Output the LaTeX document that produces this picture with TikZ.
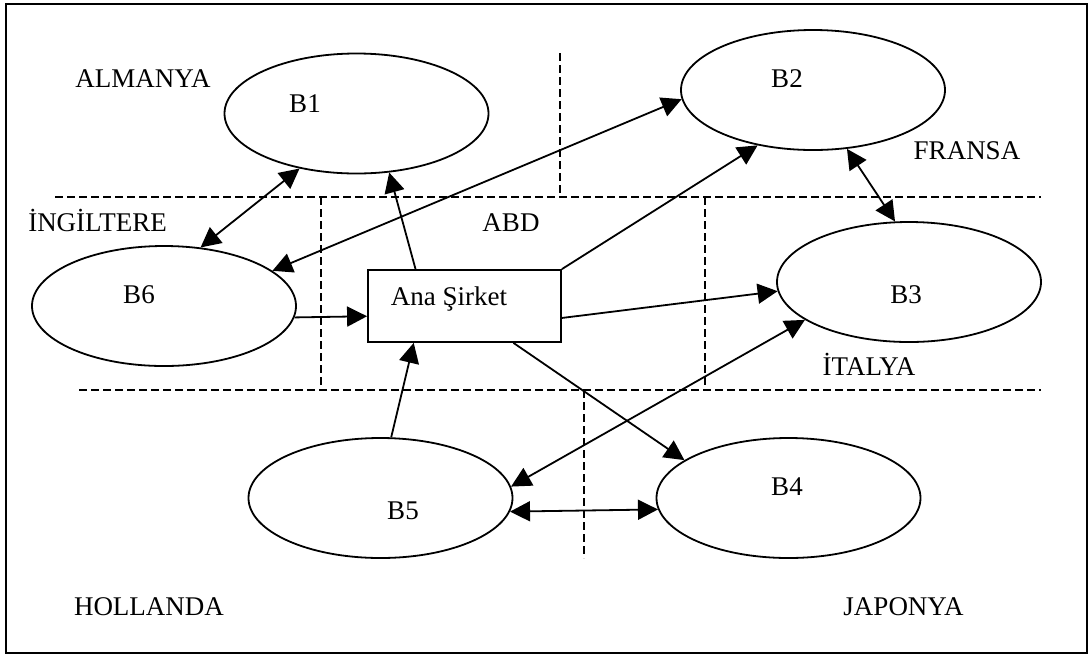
\documentclass[tikz,border=0pt]{standalone}
\usepackage{fontspec}
\setmainfont{Liberation Serif}
\usetikzlibrary{arrows.meta,shapes.geometric}

\begin{document}
\begin{tikzpicture}[
        x=0.5pt, y=-0.5pt,
        line width=0.9pt,
        font=\fontsize{13.5}{16}\selectfont,
        unit/.style={draw, ellipse, inner sep=0pt, minimum width=132pt, minimum height=60pt},
        hq/.style={draw, rectangle, inner sep=0pt, minimum width=96.5pt, minimum height=36pt},
        txt/.style={anchor=base, inner sep=0pt},
        zone/.style={dash pattern=on 4pt off 2pt},
        arr/.style={-{Triangle[length=10pt, width=10pt]}},
        darr/.style={{Triangle[length=10pt, width=10pt]}-{Triangle[length=10pt, width=10pt]}}
    ]
        \useasboundingbox (0,0) rectangle (1089,655);
        \draw[line width=1.2pt] (6,4) rectangle (1087,653);

        % country borders
        \draw[zone] (55,197)  -- (1041,197);
        \draw[zone] (560,53)  -- (560,197);
        \draw[zone] (321,197) -- (321,390);
        \draw[zone] (705,197) -- (705,390);
        \draw[zone] (79,390)  -- (1041,390);
        \draw[zone] (584,390) -- (584,558);

        \node[unit] (b1) at (356.5,113.5) {};
        \node[unit] (b2) at (813,90)      {};
        \node[unit] (b3) at (909,282)     {};
        \node[unit] (b4) at (788.5,498)   {};
        \node[unit] (b5) at (380.5,498)   {};
        \node[unit] (b6) at (164,306)     {};
        \node[hq]   (ana) at (464.5,306)  {};

        \node[txt] (tb1) at (305,112) {B1};
        \node[txt] (tb2) at (787,87)  {B2};
        \node[txt] (tb3) at (906,303) {B3};
        \node[txt] (tb4) at (787,495) {B4};
        \node[txt] (tb5) at (403,519) {B5};
        \node[txt] (tb6) at (139,303) {B6};
        \node[txt, anchor=base west] (tana) at (390,305) {Ana Şirket};

        \node[txt] (almanya)   at (143,87)    {ALMANYA};
        \node[txt] (ingiltere) at (97.5,231)  {İNGİLTERE};
        \node[txt] (abd)       at (511,231)   {ABD};
        \node[txt] (fransa)    at (967,159)   {FRANSA};
        \node[txt] (italya)    at (869,375)   {İTALYA};
        \node[txt] (hollanda)  at (149,615)   {HOLLANDA};
        \node[txt] (japonya)   at (903.5,615) {JAPONYA};

        \draw[darr] (b1.224.5) -- (b6.58.3);
        \draw[arr]  (ana.143.4) -- (b1.299);
        \draw[darr] (b2.184.3) -- (b6.18.1);
        \draw[arr]  (ana.north east) -- (b2.225.5);
        \draw[darr] (b2.300.8) -- (b3.103.1);
        \draw[arr]  (ana.353.5) -- (b3.184.7);
        \draw[arr]  (b6.355.3) -- (ana.186.5);
        \draw[arr]  (b5.80.1) -- (ana.216);
        \draw[arr]  (ana.323.4) -- (b4.160.7);
        \draw[darr] (b3.200.1) -- (b5.5.6);
        \draw[darr] (b5.354.8) -- (b4.185.2);
\end{tikzpicture}
\end{document}
